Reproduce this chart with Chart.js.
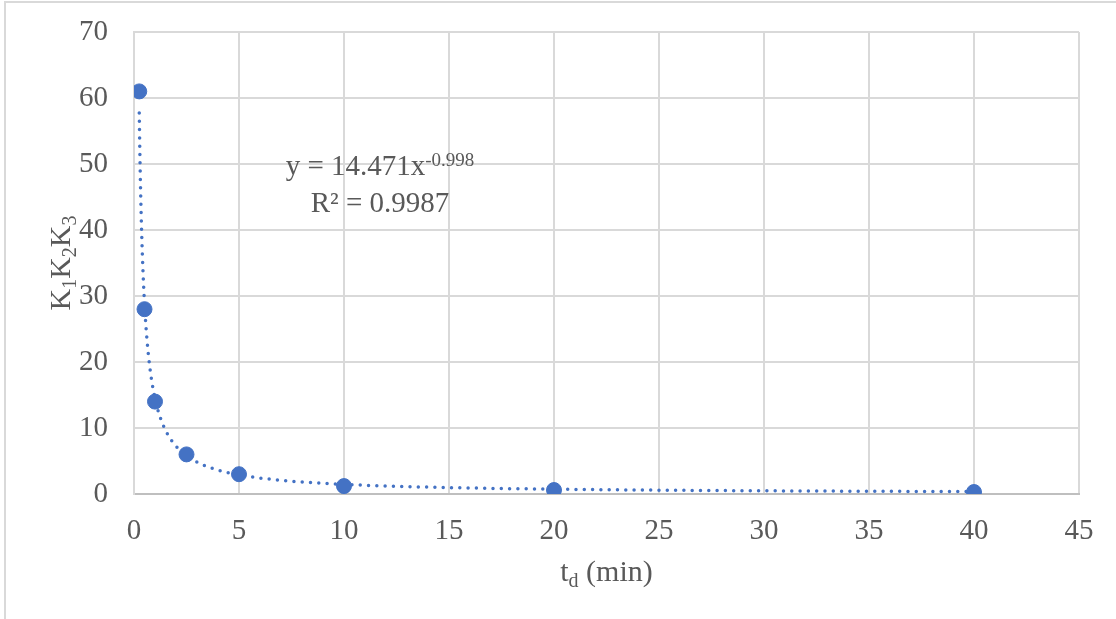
<!DOCTYPE html>
<html>
<head>
<meta charset="utf-8">
<script src="https://cdn.jsdelivr.net/npm/chart.js@4.4.0/dist/chart.umd.min.js"></script>
<style>
  html, body { margin: 0; padding: 0; background: #fff; }
  #wrap { width: 1116px; height: 619px; position: relative; }
</style>
</head>
<body>
<div id="wrap"><canvas id="chart" width="1116" height="619"></canvas></div>
<script>
// Measured points
const tdValues = [0.25, 0.5, 1, 2.5, 5, 10, 20, 40];
const kValues = [61, 28, 14, 6, 3, 1.2, 0.6, 0.3];

// Power trendline as printed on the chart: y = a * x^b
const trendCoef = [14.471, -0.998];
const trendRange = [0.25, 40];

const xTicks = [0, 45, 5];   // min, max, step
const yTicks = [0, 70, 10];

const FONT = '"Liberation Serif", "Times New Roman", serif';
const TEXT = '#595959';
const GRID = '#d9d9d9';

// sample the trendline (geometric spacing, steep near 0)
const trendPts = [];
const N = 400;
for (let i = 0; i <= N; i++) {
    const x = trendRange[0] * Math.pow(trendRange[1] / trendRange[0], i / N);
    trendPts.push({x: x, y: trendCoef[0] * Math.pow(x, trendCoef[1])});
}

const points = tdValues.map((t, i) => ({x: t, y: kValues[i]}));

// draw a run of [text, size, baselineShift] pieces starting at x
function drawRuns(ctx, runs, x, y) {
    runs.forEach(r => {
        ctx.font = r[1] + 'px ' + FONT;
        ctx.fillText(r[0], x, y + r[2]);
        x += ctx.measureText(r[0]).width;
    });
}
function runsWidth(ctx, runs) {
    let w = 0;
    runs.forEach(r => {
        ctx.font = r[1] + 'px ' + FONT;
        w += ctx.measureText(r[0]).width;
    });
    return w;
}

const decorPlugin = {
    id: 'decor',
    beforeDraw(chart) {
        const ctx = chart.ctx;
        ctx.save();
        ctx.strokeStyle = GRID;
        ctx.lineWidth = 2;
        ctx.strokeRect(5, 2, 1300, 800);
        ctx.restore();
    },
    afterDraw(chart) {
        const ctx = chart.ctx;
        const a = chart.chartArea;
        ctx.save();
        ctx.fillStyle = TEXT;
        ctx.textBaseline = 'alphabetic';
        ctx.textAlign = 'left';

        // y axis title  K1K2K3
        const yRuns = [['K', 30, 0], ['1', 20, 6], ['K', 30, 0], ['2', 20, 6], ['K', 30, 0], ['3', 20, 6]];
        const yw = runsWidth(ctx, yRuns);
        ctx.save();
        ctx.translate(70, (a.top + a.bottom) / 2);
        ctx.rotate(-Math.PI / 2);
        drawRuns(ctx, yRuns, -yw / 2, 0);
        ctx.restore();

        // x axis title  td (min)
        const xRuns = [['t', 30, 0], ['d', 20, 6], [' (min)', 30, 0]];
        const xw = runsWidth(ctx, xRuns);
        drawRuns(ctx, xRuns, (a.left + a.right) / 2 - xw / 2, 581);

        // trendline equation
        const eq1 = [['y = 14.471x', 29, 0], ['-0.998', 19, -9]];
        const eq2 = [['R² = 0.9987', 29, 0]];
        const cx = 380;
        drawRuns(ctx, eq1, cx - runsWidth(ctx, eq1) / 2, 175);
        drawRuns(ctx, eq2, cx - runsWidth(ctx, eq2) / 2, 212);
        ctx.restore();
    }
};

new Chart(document.getElementById('chart'), {
    type: 'scatter',
    data: {
        datasets: [
            {
                label: 'data',
                data: points,
                backgroundColor: '#4472C4',
                borderColor: '#4472C4',
                pointRadius: 7.5,
                pointHoverRadius: 7.5,
                order: 0
            },
            {
                label: 'trend',
                type: 'line',
                data: trendPts,
                borderColor: '#4472C4',
                borderWidth: 3.5,
                borderDash: [0, 8.3],
                borderCapStyle: 'round',
                pointRadius: 0,
                fill: false,
                tension: 0,
                order: 1
            }
        ]
    },
    options: {
        responsive: false,
        animation: false,
        events: [],
        layout: {padding: {left: 0, top: 32, right: 37, bottom: 0}},
        plugins: {legend: {display: false}, tooltip: {enabled: false}, title: {display: false}},
        scales: {
            x: {
                type: 'linear',
                min: xTicks[0], max: xTicks[1],
                afterFit: s => { s.height = 125; s.paddingLeft = 0; s.paddingRight = 0; },
                ticks: {stepSize: xTicks[2], color: TEXT, padding: 20, font: {family: FONT, size: 29}},
                grid: {color: GRID, lineWidth: 2, drawTicks: false},
                border: {color: '#bfbfbf', width: 2}
            },
            y: {
                type: 'linear',
                min: yTicks[0], max: yTicks[1],
                afterFit: s => { s.width = 134; s.paddingTop = 0; s.paddingBottom = 0; },
                ticks: {stepSize: yTicks[2], color: TEXT, padding: 26, font: {family: FONT, size: 29}},
                grid: {color: GRID, lineWidth: 2, drawTicks: false},
                border: {color: GRID, width: 2}
            }
        }
    },
    plugins: [decorPlugin]
});
</script>
</body>
</html>
